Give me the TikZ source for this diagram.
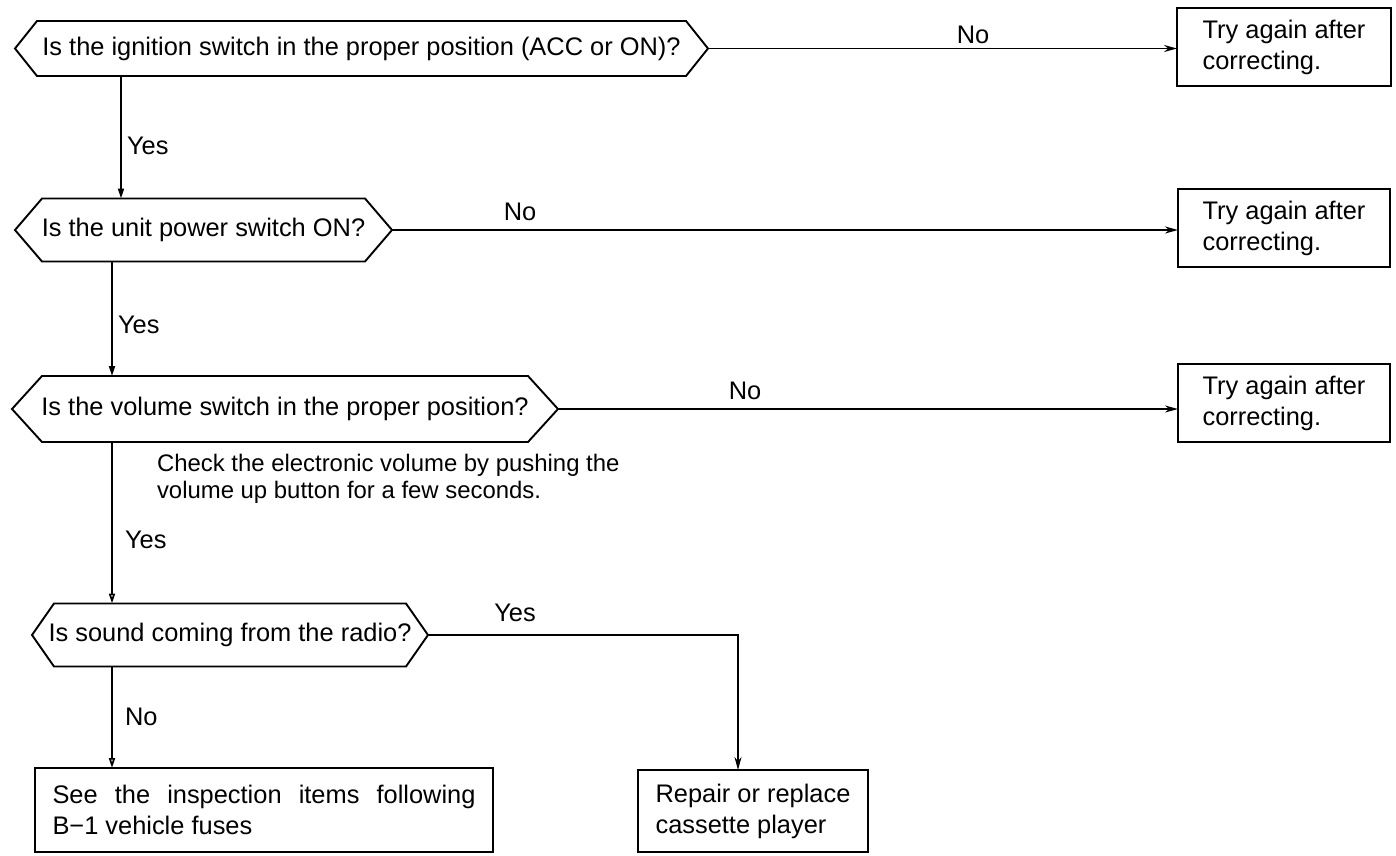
\documentclass[tikz,border=0pt]{standalone}
\usepackage{fontspec}
\setmainfont{Liberation Sans}
\usetikzlibrary{arrows.meta}
\begin{document}
\begin{tikzpicture}[x=1bp,y=-1bp,
  every node/.style={font=\fontsize{25.5}{31}\selectfont, inner sep=0pt, outer sep=0pt},
  hexq/.style={rectangle, anchor=west},
  outline/.style={line width=1.9bp, line join=miter},
  resultbox/.style={draw, line width=1.9bp, align=left, anchor=north west},
  conn/.style={line width=1.7bp},
  harrow/.style={conn, -{Stealth[length=13bp,width=7bp]}},
  varrow/.style={conn, -{Triangle[length=10bp,width=6bp]}},
  varrowopen/.style={conn, -{Triangle[open,length=10bp,width=6bp,fill=white]}},
  lbl/.style={anchor=center}
]
\useasboundingbox (0,0) rectangle (1396,855);

% decision nodes (body spans tip to tip)
\node[hexq, minimum width=693bp, minimum height=55bp] (q1) at (15,48.5)
  {Is the ignition switch in the proper position (ACC or ON)?};
\node[hexq, minimum width=377bp, minimum height=63bp] (q2) at (15,230)
  {Is the unit power switch ON?};
\node[hexq, minimum width=546bp, minimum height=66bp] (q3) at (12,409)
  {Is the volume switch in the proper position?};
\node[hexq, minimum width=396bp, minimum height=63bp] (q4) at (32,635)
  {Is sound coming from the radio?};

% hexagonal outlines around the decisions
\foreach \n/\d in {q1/22,q2/27,q3/30,q4/22}
  \draw[outline] ([xshift=\d bp]\n.north west) -- ([xshift=-\d bp]\n.north east)
    -- (\n.east) -- ([xshift=-\d bp]\n.south east)
    -- ([xshift=\d bp]\n.south west) -- (\n.west) -- cycle;

% result boxes
\node[resultbox, minimum width=214bp, minimum height=78bp] (b1) at (1177,8)
  {Try again after\\correcting.};
\node[resultbox, minimum width=212bp, minimum height=78bp] (b2) at (1178,189)
  {Try again after\\correcting.};
\node[resultbox, minimum width=212bp, minimum height=78bp] (b3) at (1178,364)
  {Try again after\\correcting.};
\node[resultbox, minimum width=458bp, minimum height=84bp] (b5) at (35,768)
  {\makebox[423bp][s]{See the inspection items following}\\B−1 vehicle fuses};
\node[resultbox, minimum width=230bp, minimum height=82bp] (b6) at (638,770)
  {Repair or replace\\cassette player};

% branch labels and note
\node[lbl] (n1) at (973,35) {No};
\node[lbl] (n2) at (520,212) {No};
\node[lbl] (n3) at (745,391) {No};
\node[lbl, anchor=west] (y1) at (127,146) {Yes};
\node[lbl, anchor=west] (y2) at (118,325) {Yes};
\node[lbl, anchor=west] (y3) at (125,540) {Yes};
\node[lbl] (y4) at (515,613) {Yes};
\node[lbl, anchor=west] (n4) at (125,717) {No};
\node[anchor=north west, align=left, font=\fontsize{24}{27}\selectfont] (note) at (157,454)
  {Check the electronic volume by pushing the\\volume up button for a few seconds.};

% connectors
\draw[harrow] (q1.east) -- (q1.east -| b1.west);
\draw[harrow] (q2.east) -- (q2.east -| b2.west);
\draw[harrow] (q3.east) -- (q3.east -| b3.west);
\draw[varrow] ([xshift=106bp]q1.south west) -- ([xshift=106bp]q1.south west |- q2.north);
\draw[varrow] ([xshift=97bp]q2.south west) -- ([xshift=97bp]q2.south west |- q3.north);
\draw[varrowopen] ([xshift=100bp]q3.south west) -- ([xshift=100bp]q3.south west |- q4.north);
\draw[varrowopen] ([xshift=80bp]q4.south west) -- ([xshift=80bp]q4.south west |- b5.north);
\draw[conn, -{Stealth[length=13bp,width=7bp]}] (q4.east) -| ([xshift=-15bp]b6.north);
\end{tikzpicture}
\end{document}
